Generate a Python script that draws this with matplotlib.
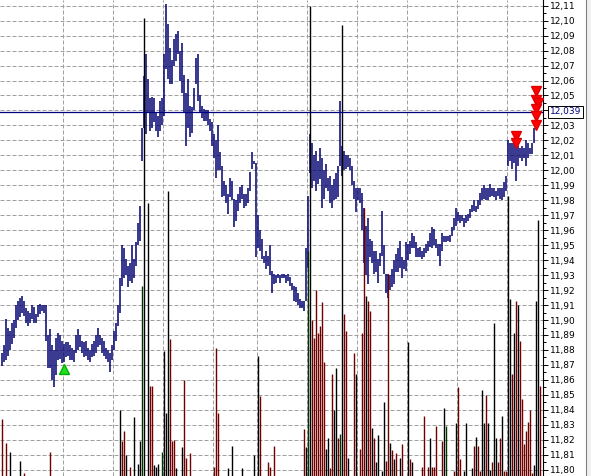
import numpy as np
import matplotlib.pyplot as plt
from matplotlib.lines import Line2D
from matplotlib.ticker import MultipleLocator, FuncFormatter
import matplotlib.transforms as mtrans

# bar highs / lows, in thousandths (one bar every ~2 px of the chart)
high = [11878, 11883, 11901, 11895, 11893, 11898, 11900, 11910, 11913, 11915,
        11916, 11913, 11908, 11906, 11905, 11910, 11909, 11904, 11910, 11911,
        11910, 11910, 11910, 11890, 11894, 11883, 11880, 11888, 11891, 11890,
        11886, 11884, 11885, 11885, 11883, 11881, 11880, 11890, 11894, 11890,
        11886, 11885, 11886, 11881, 11880, 11884, 11886, 11890, 11895, 11890,
        11888, 11886, 11881, 11880, 11878, 11883, 11893, 11898, 11910, 11928,
        11950, 11948, 11941, 11936, 11938, 11950, 11941, 11952, 11965, 11976,
        12028, 12063, 12078, 12061, 12048, 12049, 12048, 12038, 12036, 12046,
        12048, 12078, 12111, 12098, 12082, 12074, 12088, 12091, 12093, 12080,
        12085, 12064, 12052, 12061, 12043, 12042, 12055, 12075, 12078, 12050,
        12043, 12041, 12040, 12040, 12034, 12032, 12024, 12020, 12030, 12012,
        12003, 11993, 11990, 11984, 11995, 11993, 11981, 11980, 11984, 11989,
        11990, 11984, 11984, 11988, 11999, 12012, 12006, 12005, 11970, 11960,
        11954, 11943, 11946, 11943, 11950, 11933, 11931, 11930, 11931, 11930,
        11931, 11931, 11930, 11931, 11929, 11925, 11923, 11922, 11918, 11914,
        11913, 11913, 11948, 11983, 12024, 12018, 12010, 12013, 12006, 12015,
        12008, 12000, 12004, 11995, 11996, 11990, 11994, 11998, 12003, 12046,
        12016, 12013, 12010, 12010, 12008, 12003, 11993, 11988, 11988, 11988,
        11985, 11975, 11963, 11968, 11954, 11953, 11946, 11946, 11941, 11945,
        11973, 11950, 11931, 11931, 11930, 11934, 11940, 11944, 11948, 11953,
        11942, 11940, 11952, 11951, 11953, 11958, 11956, 11952, 11948, 11949,
        11946, 11948, 11951, 11953, 11958, 11962, 11961, 11954, 11951, 11951,
        11958, 11956, 11956, 11956, 11957, 11962, 11968, 11975, 11972, 11970,
        11970, 11968, 11970, 11971, 11974, 11977, 11980, 11976, 11980, 11985,
        11988, 11990, 11988, 11988, 11991, 11988, 11988, 11986, 11988, 11988,
        11988, 11992, 11996, 12020, 12018, 12018, 12020, 12018, 12016, 12015,
        12016, 12015, 12020, 12018, 12015, 12018, 12028]
low = [11869, 11872, 11873, 11876, 11880, 11884, 11888, 11895, 11900, 11902,
       11905, 11903, 11898, 11896, 11898, 11901, 11898, 11898, 11902, 11904,
       11906, 11905, 11886, 11868, 11868, 11860, 11855, 11863, 11873, 11874,
       11871, 11872, 11875, 11876, 11873, 11873, 11872, 11878, 11880, 11882,
       11878, 11875, 11876, 11873, 11872, 11875, 11876, 11878, 11882, 11883,
       11878, 11876, 11874, 11872, 11865, 11873, 11880, 11886, 11896, 11905,
       11923, 11928, 11930, 11922, 11926, 11925, 11928, 11936, 11950, 11953,
       12006, 12028, 12024, 12038, 12026, 12028, 12032, 12026, 12022, 12026,
       12030, 12036, 12068, 12061, 12058, 12058, 12070, 12073, 12078, 12060,
       12052, 12038, 12016, 12028, 12022, 12025, 12040, 12058, 12046, 12038,
       12035, 12033, 12033, 12030, 12026, 12016, 12008, 11995, 12000, 12000,
       11982, 11983, 11978, 11971, 11982, 11980, 11962, 11966, 11973, 11978,
       11981, 11975, 11976, 11978, 11986, 12001, 12004, 11942, 11948, 11946,
       11941, 11938, 11934, 11936, 11930, 11918, 11924, 11925, 11928, 11925,
       11928, 11928, 11925, 11926, 11923, 11920, 11913, 11912, 11910, 11908,
       11908, 11906, 11913, 11935, 11998, 11988, 11993, 11986, 11991, 11994,
       11975, 11981, 11988, 11986, 11978, 11975, 11980, 11981, 11982, 12003,
       11996, 12000, 12001, 12002, 12000, 11990, 11981, 11972, 11980, 11978,
       11960, 11938, 11930, 11924, 11942, 11938, 11931, 11932, 11925, 11936,
       11943, 11931, 11918, 11915, 11920, 11922, 11924, 11932, 11932, 11935,
       11928, 11934, 11933, 11940, 11944, 11948, 11948, 11942, 11942, 11942,
       11941, 11942, 11945, 11946, 11949, 11948, 11950, 11948, 11943, 11936,
       11946, 11952, 11952, 11953, 11952, 11956, 11960, 11963, 11966, 11965,
       11966, 11962, 11965, 11966, 11968, 11972, 11973, 11972, 11974, 11977,
       11980, 11981, 11980, 11980, 11982, 11983, 11982, 11980, 11983, 11981,
       11980, 11982, 11986, 12003, 12006, 12001, 12005, 11993, 12003, 12008,
       12006, 12008, 12003, 12008, 12011, 12011, 12018]

# indicator histogram: bar index, top value, kind
vol_idx = [0, 2, 4, 9, 11, 24, 59, 60, 61, 62, 64, 66, 68, 69, 70, 71, 73, 74, 75,
           76, 77, 78, 80, 81, 82, 83, 84, 85, 86, 87, 90, 91, 92, 94, 106, 107,
           108, 113, 115, 120, 126, 128, 129, 133, 134, 136, 151, 152, 153, 154,
           155, 156, 157, 158, 159, 160, 161, 162, 163, 164, 165, 166, 167, 168,
           169, 170, 171, 172, 173, 176, 177, 179, 180, 181, 182, 183, 184, 185,
           186, 187, 188, 190, 191, 192, 193, 194, 195, 196, 197, 199, 200, 203,
           204, 205, 210, 211, 213, 214, 215, 216, 217, 220, 221, 222, 226, 227,
           228, 229, 231, 232, 235, 236, 237, 238, 239, 240, 241, 242, 243, 244,
           245, 246, 247, 248, 249, 250, 251, 252, 253, 254, 255, 256, 257, 258,
           259, 260, 261, 262, 263, 264, 265, 266, 267, 268, 269]
vol_top = [11834, 11818, 11812, 11806, 11798, 11812, 11840, 11819, 11826, 11810,
           11802, 11835, 11804, 11819, 11923, 12102, 11978, 11856, 11856, 11803,
           11802, 11804, 11812, 11879, 11838, 11986, 11887, 11819, 11820, 11801,
           11815, 11860, 11808, 11811, 11802, 11881, 11838, 11801, 11816, 11801,
           11810, 11876, 11849, 11805, 11802, 11816, 11827, 11815, 11946, 12110,
           11900, 11888, 11920, 11891, 11896, 11912, 11872, 11814, 11821, 11801,
           11864, 11840, 11868, 11821, 11824, 12097, 11904, 11893, 11808, 11878,
           11864, 11814, 11891, 11975, 11916, 11913, 11906, 11828, 11821, 11805,
           11823, 11799, 11845, 11806, 11931, 11818, 11813, 11807, 11811, 11808,
           11817, 11885, 11807, 11805, 11802, 11836, 11802, 11821, 11802, 11802,
           11829, 11819, 11841, 11829, 11799, 11831, 11855, 11807, 11799, 11831,
           11801, 11816, 11822, 11816, 11799, 11853, 11831, 11850, 11831, 11800,
           11805, 11898, 11821, 11805, 11821, 11836, 11799, 11799, 11983, 11914,
           11864, 11891, 11913, 11910, 11886, 11847, 11817, 11826, 11832, 11840,
           11798, 11803, 11913, 11967, 11856]
vol_kind = ['dn', 'dn', 'up', 'up', 'dn', 'dn', 'up', 'dn', 'dn', 'up', 'dn', 'up',
            'up', 'up', 'eq', 'up', 'up', 'dn', 'dn', 'up', 'up', 'up', 'eq', 'up',
            'up', 'up', 'dn', 'dn', 'dn', 'up', 'up', 'dn', 'dn', 'dn', 'dn', 'dn',
            'dn', 'up', 'up', 'up', 'up', 'up', 'dn', 'dn', 'dn', 'dn', 'dn', 'up',
            'eq', 'up', 'dn', 'dn', 'dn', 'dn', 'dn', 'dn', 'dn', 'up', 'up', 'dn',
            'dn', 'up', 'up', 'dn', 'eq', 'up', 'dn', 'dn', 'up', 'dn', 'up', 'dn',
            'dn', 'dn', 'up', 'dn', 'dn', 'up', 'dn', 'up', 'up', 'up', 'up', 'dn',
            'dn', 'up', 'dn', 'up', 'dn', 'up', 'dn', 'up', 'dn', 'up', 'dn', 'dn',
            'dn', 'up', 'dn', 'dn', 'dn', 'dn', 'up', 'eq', 'dn', 'up', 'dn', 'dn',
            'up', 'up', 'up', 'dn', 'up', 'dn', 'dn', 'up', 'up', 'dn', 'up', 'up',
            'dn', 'up', 'up', 'dn', 'dn', 'up', 'dn', 'dn', 'up', 'up', 'dn', 'up',
            'dn', 'up', 'dn', 'dn', 'dn', 'dn', 'dn', 'dn', 'dn', 'up', 'up', 'up',
            'dn']

level = 12.039
sell_idx = [257, 257, 267, 267, 268, 267, 267, 267]
sell_val = [12.023, 12.018, 12.053, 12.047, 12.045, 12.041, 12.036, 12.030]
buy_idx = [31]
buy_val = [11.867]

time_grid = [30.5, 55.5, 80.5, 105.5, 127.5, 152.5, 177.5, 202.5, 227.5, 252.5]

kind_color = {'up': '#000000', 'dn': '#700000', 'eq': '#003300'}

W, H = 591, 476
fig = plt.figure(figsize=(W / 100, H / 100), dpi=100)
fig.patch.set_facecolor('white')
ax = fig.add_axes([0, 0, 543 / W, 1])
ax.set_facecolor('white')
# 2 px per bar, bars centred on pixel centres
ax.set_xlim(-0.75, 270.75)
ax.set_ylim(11.7958, 12.1138)

dash = dict(color='#a0a0a0', lw=0.72, ls=(0, (4, 2)), zorder=0)
for t in time_grid:
    ax.axvline(t, **dash)
for v in np.arange(11.80, 12.115, 0.01):
    ax.axhline(v, **dash)

x = np.arange(len(high))
ax.vlines(x, np.array(low) / 1000, np.array(high) / 1000, color='#000070', lw=1.1, zorder=2)

ax.vlines(vol_idx, 11.70, np.array(vol_top) / 1000,
          colors=[kind_color[k] for k in vol_kind], lw=1.0, zorder=3)

ax.axhline(level, color='#000080', lw=0.9, zorder=4)

ax.plot(sell_idx, sell_val, ls='none', marker='v', ms=6.5, color='#ff0000', mec='#e00000', zorder=5)
ax.plot(buy_idx, buy_val, ls='none', marker='^', ms=6.5, color='#22dd22', mec='#00b000', zorder=5)

for s in ['top', 'bottom', 'left']:
    ax.spines[s].set_visible(False)
ax.spines['right'].set_color('black')
ax.spines['right'].set_linewidth(0.8)
ax.set_xticks([])
ax.yaxis.tick_right()
ax.yaxis.set_major_locator(MultipleLocator(0.01))
ax.yaxis.set_minor_locator(MultipleLocator(0.005))


def price_label(v, p):
    # the current-price box takes the place of 12,04
    if abs(v - 12.04) < 1e-6:
        return ''
    return f'{v:.2f}'.replace('.', ',')


ax.yaxis.set_major_formatter(FuncFormatter(price_label))
ax.tick_params(axis='y', which='major', length=3.5, width=0.7, pad=1.5,
               labelsize=6.5, colors='black')
ax.tick_params(axis='y', which='minor', length=2, width=0.7)

tr = mtrans.blended_transform_factory(ax.transAxes, ax.transData)
ax.text(1.012, level, '12,039', transform=tr, va='center', ha='left', fontsize=6.5,
        color='#000080', zorder=10,
        bbox=dict(boxstyle='square,pad=0.18', fc='white', ec='black', lw=0.7))

fig.add_artist(Line2D([586 / W, 586 / W], [0, 1], color='#808080', lw=0.8))
fig.add_artist(plt.Rectangle((587 / W, 0), 4 / W, 1, color='#f0f0f0', transform=fig.transFigure))

fig.savefig('out.png', dpi=100)
